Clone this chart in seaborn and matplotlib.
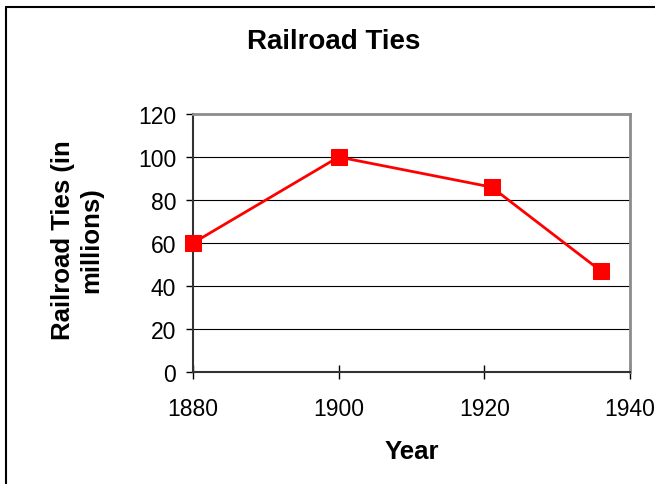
import matplotlib
matplotlib.use("Agg")
import matplotlib.pyplot as plt
import seaborn as sns
import pandas as pd
from matplotlib.lines import Line2D

# Data
years = [1880, 1900, 1921, 1936]
ties_millions = [60, 100, 86, 47]

df = pd.DataFrame({"Year": years, "Ties": ties_millions})

sns.set_style("white")
plt.rcParams['font.family'] = ['Liberation Sans', 'DejaVu Sans']
plt.rcParams['text.color'] = 'black'
plt.rcParams['axes.labelcolor'] = 'black'

fig = plt.figure(figsize=(6.55, 4.85), dpi=100)
ax = fig.add_axes([193 / 655, 1 - 373 / 485, (630 - 193) / 655, (373 - 115) / 485])

sns.lineplot(data=df, x="Year", y="Ties", ax=ax, color="#ff0000", linewidth=2,
             marker="s", markersize=11, markeredgecolor="#ff0000", zorder=3,
             clip_on=False)

ax.set_xlim(1880, 1940)
ax.set_ylim(0, 120)
ax.set_xticks([1880, 1900, 1920, 1940])
ax.set_yticks(range(0, 121, 20))
ax.yaxis.grid(True, color="black", linewidth=0.8)
ax.set_axisbelow(True)

for side in ["top", "right"]:
    ax.spines[side].set_color("#8c8c8c")
    ax.spines[side].set_linewidth(2)
for side in ["left", "bottom"]:
    ax.spines[side].set_color("#333333")
    ax.spines[side].set_linewidth(1.5)

ax.tick_params(axis="x", direction="inout", length=10, width=1, colors="black",
               labelsize=16.5, pad=13)
ax.tick_params(axis="y", direction="out", length=5, width=1, colors="black",
               labelsize=16.5, pad=7)
ax.tick_params(left=True, bottom=True)

ax.set_xlabel("Year", fontsize=18.5, fontweight="bold", labelpad=14)
ax.set_ylabel("")
fig.text(77 / 655, 1 - 240 / 485, "Railroad Ties (in\nmillions)", rotation=90,
         ha="center", va="center", fontsize=18.5, fontweight="bold", linespacing=1.25)
fig.text(334 / 655, 1 - 42 / 485, "Railroad Ties", ha="center", va="center",
         fontsize=20, fontweight="bold")

# outer chart frame (top and left edges visible)
fig.add_artist(Line2D([6 / 655, 1], [1 - 8 / 485, 1 - 8 / 485], color="black",
                      linewidth=1.5, transform=fig.transFigure))
fig.add_artist(Line2D([6 / 655, 6 / 655], [0, 1 - 8 / 485], color="black",
                      linewidth=1.5, transform=fig.transFigure))

fig.savefig("out.png", dpi=100)
